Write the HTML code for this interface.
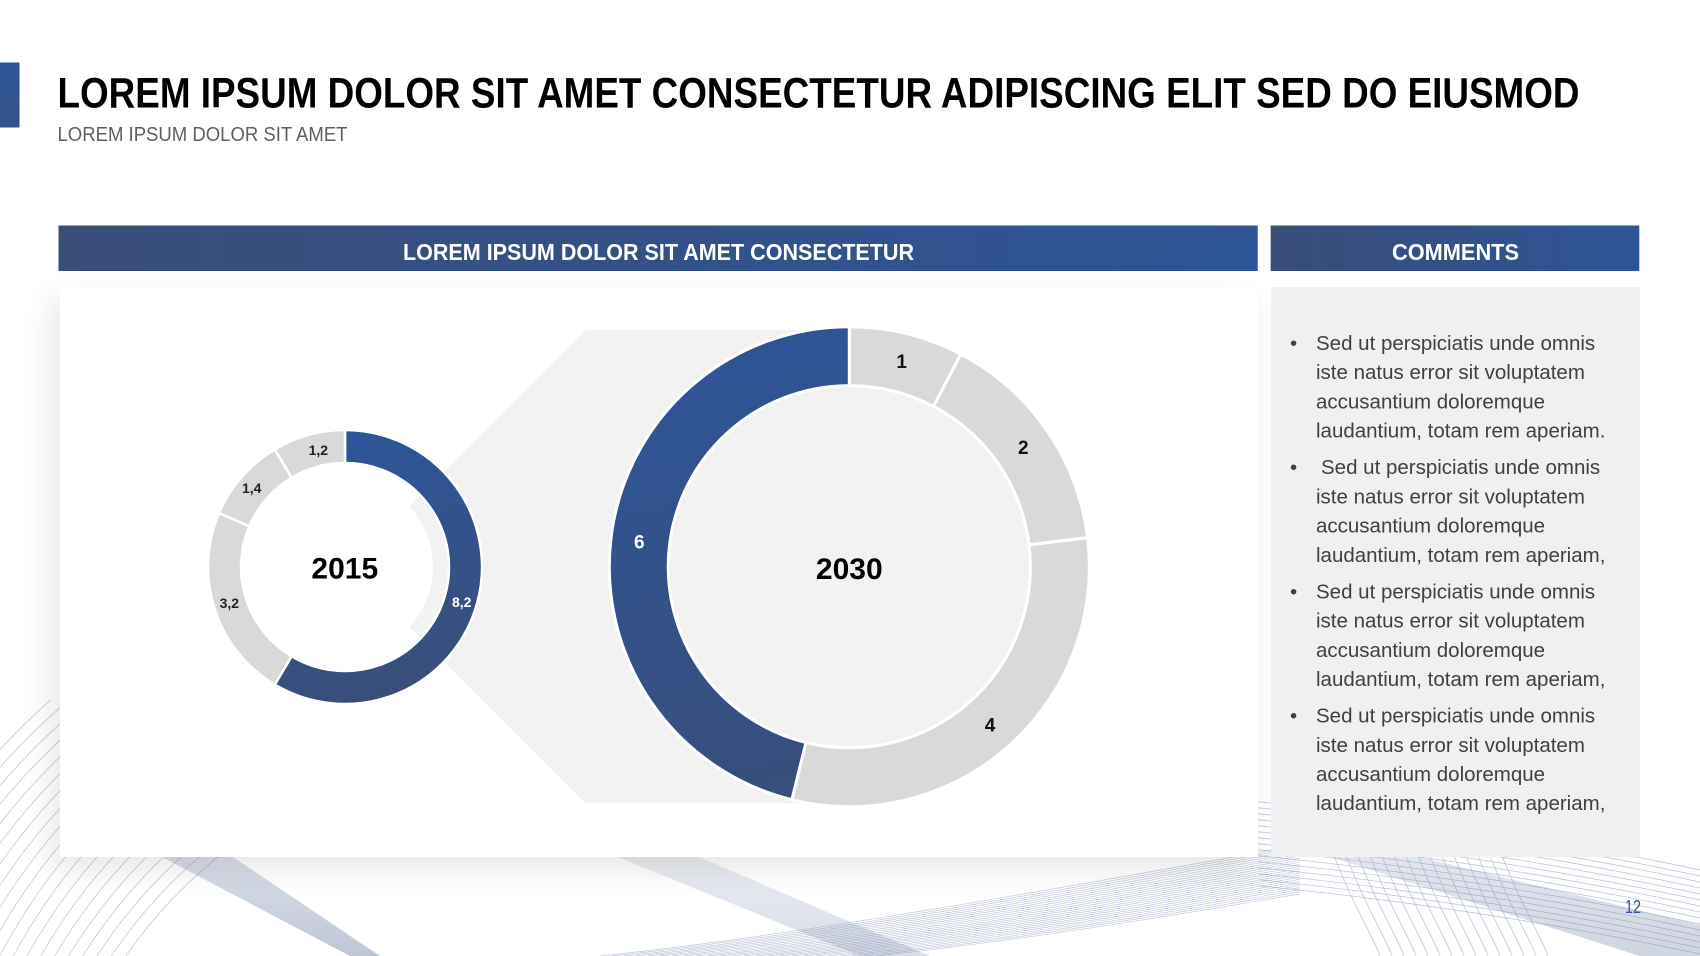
<!DOCTYPE html>
<html>
<head>
<meta charset="utf-8">
<style>
html,body{margin:0;padding:0;width:1700px;height:956px;overflow:hidden;background:#fff}
svg{position:absolute;left:0;top:0}
.panel{position:absolute;left:59.5px;top:286.5px;width:1198px;height:570px;background:#fff;box-shadow:-8px 12px 30px rgba(0,0,0,0.10)}
.cpanel{position:absolute;left:1271px;top:287px;width:368.5px;height:569.5px;background:#f0f0f0}
</style>
</head>
<body>
<!-- background waves -->
<svg width="1700" height="956" viewBox="0 0 1700 956">
  <defs>
    <clipPath id="cl"><rect x="0" y="700" width="640" height="256"/></clipPath>
    <clipPath id="cm"><rect x="600" y="820" width="700" height="136"/></clipPath>
    <clipPath id="cr"><rect x="1258" y="800" width="442" height="156"/></clipPath>
    <path id="wm" d="M600,956 C800,935 1050,890 1300,845" fill="none"/>
    <path id="wr" d="M1240,800 C1400,815 1560,840 1700,870" fill="none"/>
    <path id="wv" d="M1330,845 C1350,900 1370,930 1380,956" fill="none"/>
    <linearGradient id="bandg" x1="0" y1="0" x2="0" y2="1">
      <stop offset="0" stop-color="#8d9abb" stop-opacity="0.55"/>
      <stop offset="1" stop-color="#6f7fa5" stop-opacity="0.75"/>
    </linearGradient>
  </defs>
  <g clip-path="url(#cl)" fill="none" stroke="#a8b2ca" stroke-width="0.7" opacity="0.8">
    <path d="M125.9,956 A480,480 0 0 1 640,765.2"/>
    <path d="M111.4,956 A492,492 0 0 1 640,752.9"/>
    <path d="M97,956 A504,504 0 0 1 640,740.5"/>
    <path d="M82.8,956 A516,516 0 0 1 640,728.1"/>
    <path d="M68.7,956 A528,528 0 0 1 640,715.8"/>
    <path d="M54.7,956 A540,540 0 0 1 640,703.5"/>
    <path d="M40.8,956 A552,552 0 0 1 640,691.2"/>
    <path d="M27,956 A564,564 0 0 1 640,678.9"/>
    <path d="M13.3,956 A576,576 0 0 1 640,666.6"/>
    <path d="M0,955.5 A588,588 0 0 1 640,654.4"/>
    <path d="M0,930.7 A600,600 0 0 1 640,642.1"/>
    <path d="M0,907.3 A612,612 0 0 1 640,629.9"/>
    <path d="M0,885.1 A624,624 0 0 1 640,617.6"/>
    <path d="M0,863.8 A636,636 0 0 1 640,605.4"/>
    <path d="M0,843.3 A648,648 0 0 1 640,593.2"/>
    <path d="M0,823.6 A660,660 0 0 1 640,581"/>
    <path d="M0,804.3 A672,672 0 0 1 640,568.8"/>
    <path d="M0,785.6 A684,684 0 0 1 640,556.6"/>
    <path d="M0,767.4 A696,696 0 0 1 640,544.4"/>
    <path d="M0,749.5 A708,708 0 0 1 640,532.2"/>
  </g>
  <g clip-path="url(#cm)" stroke="#a8b2ca" stroke-width="0.7" opacity="0.7">
    <use href="#wm"/><use href="#wm" transform="translate(12,0)"/><use href="#wm" transform="translate(24,0)"/>
    <use href="#wm" transform="translate(36,0)"/><use href="#wm" transform="translate(48,0)"/><use href="#wm" transform="translate(60,0)"/>
    <use href="#wm" transform="translate(72,0)"/><use href="#wm" transform="translate(84,0)"/><use href="#wm" transform="translate(96,0)"/>
    <use href="#wm" transform="translate(108,0)"/><use href="#wm" transform="translate(120,0)"/><use href="#wm" transform="translate(132,0)"/>
    <use href="#wm" transform="translate(144,0)"/><use href="#wm" transform="translate(156,0)"/><use href="#wm" transform="translate(168,0)"/>
    <use href="#wm" transform="translate(180,0)"/><use href="#wm" transform="translate(192,0)"/><use href="#wm" transform="translate(204,0)"/>
    <use href="#wm" transform="translate(216,0)"/><use href="#wm" transform="translate(228,0)"/><use href="#wm" transform="translate(240,0)"/>
    <use href="#wm" transform="translate(252,0)"/><use href="#wm" transform="translate(264,0)"/><use href="#wm" transform="translate(276,0)"/>
  </g>
  <g clip-path="url(#cr)" stroke="#98a4c0" stroke-width="0.7" opacity="0.7">
    <use href="#wr"/><use href="#wr" transform="translate(0,6)"/><use href="#wr" transform="translate(0,12)"/>
    <use href="#wr" transform="translate(0,18)"/><use href="#wr" transform="translate(0,24)"/><use href="#wr" transform="translate(0,30)"/>
    <use href="#wr" transform="translate(0,36)"/><use href="#wr" transform="translate(0,42)"/><use href="#wr" transform="translate(0,48)"/>
    <use href="#wr" transform="translate(0,54)"/><use href="#wr" transform="translate(0,60)"/><use href="#wr" transform="translate(0,66)"/>
    <use href="#wr" transform="translate(0,72)"/><use href="#wr" transform="translate(0,78)"/><use href="#wr" transform="translate(0,84)"/>
    <use href="#wv"/><use href="#wv" transform="translate(12,0)"/><use href="#wv" transform="translate(24,0)"/>
    <use href="#wv" transform="translate(36,0)"/><use href="#wv" transform="translate(48,0)"/><use href="#wv" transform="translate(60,0)"/>
    <use href="#wv" transform="translate(72,0)"/><use href="#wv" transform="translate(84,0)"/><use href="#wv" transform="translate(96,0)"/>
    <use href="#wv" transform="translate(108,0)"/><use href="#wv" transform="translate(120,0)"/><use href="#wv" transform="translate(132,0)"/>
    <use href="#wv" transform="translate(144,0)"/><use href="#wv" transform="translate(156,0)"/><use href="#wv" transform="translate(168,0)"/>
  </g>
  <!-- dense bands -->
  <polygon points="162,857 233,857 380,956 350,956" fill="url(#bandg)" opacity="0.6"/>
  <polygon points="618,857 699,857 930,956 860,956" fill="url(#bandg)" opacity="0.35"/>
  <polygon points="1330,857 1420,857 1700,925 1700,956 1640,956" fill="url(#bandg)" opacity="0.45"/>
</svg>

<div class="panel"></div>
<div class="cpanel"></div>

<svg width="1700" height="956" viewBox="0 0 1700 956" font-family="'Liberation Sans', Arial, sans-serif">
  <defs>
    <linearGradient id="hdr" x1="0" y1="0" x2="1" y2="0">
      <stop offset="0" stop-color="#394d77"/>
      <stop offset="1" stop-color="#2e5597"/>
    </linearGradient>
    <linearGradient id="blueBig" gradientUnits="userSpaceOnUse" x1="700" y1="330" x2="800" y2="800">
      <stop offset="0" stop-color="#2e5598"/>
      <stop offset="1" stop-color="#384e7b"/>
    </linearGradient>
    <linearGradient id="blueSmall" gradientUnits="userSpaceOnUse" x1="360" y1="430" x2="420" y2="700">
      <stop offset="0" stop-color="#2e5598"/>
      <stop offset="1" stop-color="#394e79"/>
    </linearGradient>
    <linearGradient id="lbar" x1="0" y1="0" x2="0" y2="1">
      <stop offset="0" stop-color="#2e5597"/>
      <stop offset="1" stop-color="#34538a"/>
    </linearGradient>
  </defs>

  <!-- left accent bar -->
  <rect x="0" y="62.5" width="19.5" height="65" fill="url(#lbar)"/>

  <!-- title -->
  <text x="57.5" y="107.7" font-size="43" font-weight="bold" fill="#000" textLength="1522" lengthAdjust="spacingAndGlyphs">LOREM IPSUM DOLOR SIT AMET CONSECTETUR ADIPISCING ELIT SED DO EIUSMOD</text>
  <text x="57.5" y="141" font-size="20.5" fill="#5f5f5f" textLength="290" lengthAdjust="spacingAndGlyphs">LOREM IPSUM DOLOR SIT AMET</text>

  <!-- header bars -->
  <rect x="58.5" y="225.5" width="1199.2" height="45.5" fill="url(#hdr)"/>
  <text x="403" y="260" font-size="23" font-weight="bold" fill="#fff" textLength="511" lengthAdjust="spacingAndGlyphs">LOREM IPSUM DOLOR SIT AMET CONSECTETUR</text>
  <rect x="1270.7" y="225.5" width="368.6" height="45.5" fill="url(#hdr)"/>
  <text x="1392" y="260" font-size="23" font-weight="bold" fill="#fff" textLength="127" lengthAdjust="spacingAndGlyphs">COMMENTS</text>

  <!-- funnel polygon -->
  <polygon points="585.7,330 849,330 849,803.3 585.7,803.3 410,627.6 410,505.7" fill="#f2f2f2"/>
  <!-- white center of small donut -->
  <circle cx="345" cy="567" r="88" fill="#fff"/>

  <!-- small donut 2015 -->
  <g stroke="#fff" stroke-width="2.5" stroke-linejoin="round">
    <path d="M345,430 A137,137 0 1 1 274.74,684.61 L291.67,656.28 A104,104 0 1 0 345,463 Z" fill="url(#blueSmall)"/>
    <path d="M274.74,684.61 A137,137 0 0 1 219.02,513.16 L249.36,526.13 A104,104 0 0 0 291.67,656.28 Z" fill="#d9d9d9"/>
    <path d="M219.02,513.16 A137,137 0 0 1 274.73,449.39 L291.66,477.72 A104,104 0 0 0 249.36,526.13 Z" fill="#d9d9d9"/>
    <path d="M274.73,449.39 A137,137 0 0 1 345,430 L345,463 A104,104 0 0 0 291.66,477.72 Z" fill="#d9d9d9"/>
  </g>
  <text x="344.8" y="578.3" font-size="30" font-weight="bold" fill="#000" text-anchor="middle">2015</text>
  <g font-size="14" font-weight="bold" text-anchor="middle">
    <text x="318.3" y="455" fill="#222">1,2</text>
    <text x="251.7" y="493" fill="#222">1,4</text>
    <text x="229.3" y="608" fill="#222">3,2</text>
    <text x="461.7" y="607" fill="#fff">8,2</text>
  </g>

  <!-- big donut 2030 -->
  <g stroke="#fff" stroke-width="3" stroke-linejoin="round">
    <path d="M849.3,326.7 A240,240 0 0 1 960.83,354.18 L933.41,406.42 A181,181 0 0 0 849.3,385.7 Z" fill="#d9d9d9"/>
    <path d="M960.83,354.18 A240,240 0 0 1 1087.55,537.78 L1028.98,544.89 A181,181 0 0 0 933.41,406.42 Z" fill="#d9d9d9"/>
    <path d="M1087.55,537.78 A240,240 0 0 1 791.84,799.72 L805.97,742.44 A181,181 0 0 0 1028.98,544.89 Z" fill="#d9d9d9"/>
    <path d="M791.84,799.72 A240,240 0 0 1 849.3,326.7 L849.3,385.7 A181,181 0 0 0 805.97,742.44 Z" fill="url(#blueBig)"/>
    <circle cx="849.3" cy="566.7" r="181" fill="#f2f2f2"/>
  </g>
  <text x="849.3" y="579" font-size="30" font-weight="bold" fill="#000" text-anchor="middle">2030</text>
  <g font-size="19" font-weight="bold" text-anchor="middle">
    <text x="901.7" y="368" fill="#111">1</text>
    <text x="1023.3" y="454" fill="#111">2</text>
    <text x="990" y="731.7" fill="#111">4</text>
    <text x="639.3" y="548.3" fill="#fff">6</text>
  </g>

  <!-- comments -->
  <g font-size="20.5" fill="#404040">
    <text x="1290" y="350">•</text>
    <text x="1316" y="350">Sed ut perspiciatis unde omnis</text>
    <text x="1316" y="379.2">iste natus error sit voluptatem</text>
    <text x="1316" y="408.4">accusantium doloremque</text>
    <text x="1316" y="437.6">laudantium, totam rem aperiam.</text>

    <text x="1290" y="474.2">•</text>
    <text x="1321" y="474.2">Sed ut perspiciatis unde omnis</text>
    <text x="1316" y="503.4">iste natus error sit voluptatem</text>
    <text x="1316" y="532.6">accusantium doloremque</text>
    <text x="1316" y="561.8">laudantium, totam rem aperiam,</text>

    <text x="1290" y="598.4">•</text>
    <text x="1316" y="598.4">Sed ut perspiciatis unde omnis</text>
    <text x="1316" y="627.6">iste natus error sit voluptatem</text>
    <text x="1316" y="656.8">accusantium doloremque</text>
    <text x="1316" y="686">laudantium, totam rem aperiam,</text>

    <text x="1290" y="722.6">•</text>
    <text x="1316" y="722.6">Sed ut perspiciatis unde omnis</text>
    <text x="1316" y="751.8">iste natus error sit voluptatem</text>
    <text x="1316" y="781">accusantium doloremque</text>
    <text x="1316" y="810.2">laudantium, totam rem aperiam,</text>
  </g>

  <!-- page number -->
  <text x="1625" y="913" font-size="18" fill="#2f5597" textLength="16" lengthAdjust="spacingAndGlyphs">12</text>
</svg>
</body>
</html>
